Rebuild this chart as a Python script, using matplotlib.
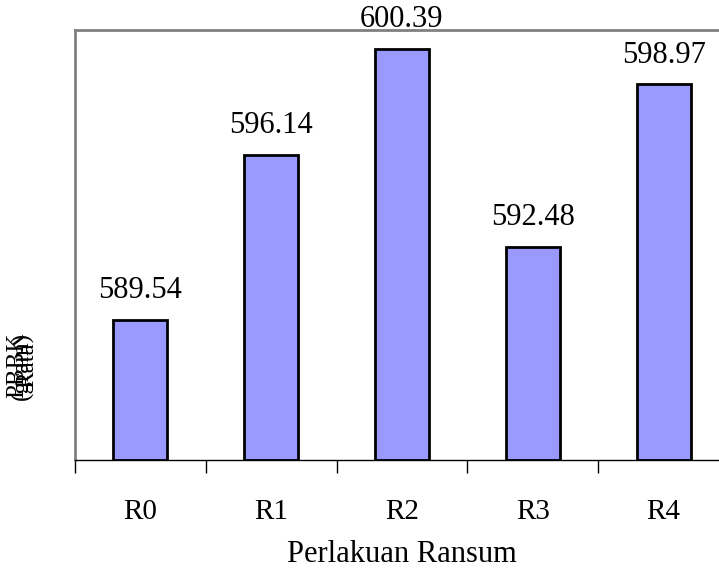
import numpy as np
import matplotlib.pyplot as plt

cat = ["R0", "R1", "R2", "R3", "R4"]
values = [589.54, 596.14, 600.39, 592.48, 598.97]
labels = ["589.54", "596.14", "600.39", "592.48", "598.97"]

plt.rcParams['font.family'] = ['Liberation Serif', 'DejaVu Serif']

fig = plt.figure(figsize=(7.19, 5.71), dpi=100)
ax = fig.add_axes([0.1043, 0.1944, 0.9096, 0.753])

x = np.arange(len(cat))
base = 583.94
ax.bar(x, np.array(values) - base, bottom=base, width=0.413,
       color='#9999ff', edgecolor='black', linewidth=2)

for xi, v, t in zip(x, values, labels):
    ax.text(xi, v + 0.88, t, ha='center', va='baseline', fontsize=22)

ax.set_xlim(-0.5, 4.5)
ax.set_ylim(base, 601.15)
ax.set_yticks([])
ax.set_xticks(x)
ax.set_xticklabels(cat, fontsize=21)
ax.set_xticks(np.arange(-0.5, 5, 1), minor=True)
ax.tick_params(axis='x', which='major', length=0, pad=28)
ax.tick_params(axis='x', which='minor', length=9, width=1, direction='out')

ax.spines['right'].set_visible(False)
ax.spines['top'].set_color('#808080')
ax.spines['left'].set_color('#808080')
ax.spines['top'].set_linewidth(2)
ax.spines['left'].set_linewidth(2)
ax.spines['bottom'].set_linewidth(1)

ax.set_xlabel("Perlakuan Ransum", fontsize=22, labelpad=11)

# y label in the reference is squashed lines printed on top of each other
fig.text(0.031, 0.36, "PBBK\n(gram)\nRata", rotation=90, fontsize=18,
         ha='center', va='center', multialignment='center', linespacing=0.01)

plt.savefig('out.png', dpi=100)
